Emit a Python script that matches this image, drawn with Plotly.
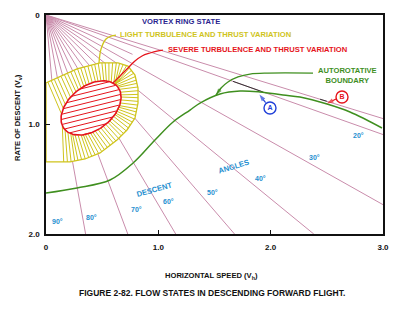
import numpy as np
import plotly.graph_objects as go

# ---------------------------------------------------------------- layout frame
W, H = 400, 328
M_L, M_R, M_T, M_B = 46, 17, 15, 94
X_MAX, Y_MAX = 3.0, 2.0
SX = (W - M_L - M_R) / X_MAX      # pixels per unit of Vh
SY = (H - M_T - M_B) / Y_MAX      # pixels per unit of Vv

# ---------------------------------------------------------------- data
x_ticks = [0, 1.0, 2.0, 3.0]
x_tick_text = ["0", "1.0", "2.0", "3.0"]
y_ticks = [0, 1.0, 2.0]
y_tick_text = ["0", "1.0", "2.0"]

# descent-angle rays drawn from the origin (degrees below horizontal)
long_ray_angles = [80, 70, 60, 50, 40, 30, 20, 17.5]
short_ray_angles = [85, 75, 65, 55, 45, 35, 25]
short_ray_length = 0.85

angle_label_text = ["90°", "80°", "70°", "60°", "50°", "40°", "30°", "20°"]
angle_label_x = [0.10, 0.405, 0.81, 1.09, 1.48, 1.905, 2.39, 2.78]
angle_label_y = [1.89, 1.85, 1.78, 1.70, 1.62, 1.49, 1.30, 1.10]

# autorotative boundary
auto_x = [0.000, 0.276, 0.570, 0.775, 0.970, 1.131, 1.282, 1.371, 1.549,
          1.727, 1.905, 2.110, 2.261, 2.502, 2.706, 2.991]
auto_y = [1.626, 1.580, 1.507, 1.352, 1.142, 0.977, 0.868, 0.804, 0.721,
          0.694, 0.703, 0.731, 0.749, 0.813, 0.886, 1.032]

# light turbulence region (outer edge, starting and ending on the Vv axis)
light_x = [0.000, 0.125, 0.276, 0.481, 0.641, 0.730, 0.792, 0.819, 0.819,
           0.792, 0.721, 0.632, 0.481, 0.347, 0.214, 0.000]
light_y = [0.621, 0.566, 0.493, 0.438, 0.438, 0.466, 0.548, 0.667, 0.804,
           0.941, 1.050, 1.142, 1.260, 1.315, 1.342, 1.342]

# severe turbulence region (tilted ellipse)
severe_cx, severe_cy = 0.401, 0.849
severe_a_px, severe_b_px, severe_tilt = 34.0, 22.0, 38.0

# leader lines
light_lead_x = [0.472, 0.474, 0.490, 0.534, 0.579, 0.623]
light_lead_y = [0.438, 0.411, 0.310, 0.219, 0.192, 0.183]
severe_lead_x = [0.596, 0.659, 0.730, 0.792, 0.855, 0.926, 0.988, 1.041]
severe_lead_y = [0.621, 0.557, 0.484, 0.420, 0.374, 0.347, 0.329, 0.320]
auto_lead_x = [2.377, 1.976, 1.816, 1.709, 1.620, 1.558, 1.513]
auto_lead_y = [0.530, 0.530, 0.539, 0.566, 0.612, 0.667, 0.731]

# points A and B on the boundary
point_a = dict(label="A", cx=1.994, cy=0.849, tip=(1.900, 0.727), tail=(1.955, 0.800))
point_b = dict(label="B", cx=2.635, cy=0.749, tip=(2.500, 0.808), tail=(2.582, 0.767))

# ---------------------------------------------------------------- colours / fonts
C_RAY = "#c98cab"
C_YEL = "#cfc41c"
C_RED = "#e5141c"
C_GRN = "#3f8f1f"
C_NAVY = "#2b1f8f"
C_ANG = "#1f8fd0"
C_A = "#1f3fd8"
FONT = "Liberation Sans, Arial, sans-serif"
TXT = 7.6


def to_px(x, y):
    return np.asarray(x, float) * SX, np.asarray(y, float) * SY


def to_data(u, v):
    return np.asarray(u, float) / SX, np.asarray(v, float) / SY


fig = go.Figure()


def add_line(x, y, color, width=1.0, shape="linear", **kw):
    fig.add_trace(go.Scatter(x=x, y=y, mode="lines",
                             line=dict(color=color, width=width, shape=shape),
                             hoverinfo="skip", showlegend=False, **kw))


def add_arrow(x, y, color, width=1.2, head=7):
    """Polyline ending in an arrowhead that follows the last segment."""
    n = len(x)
    fig.add_trace(go.Scatter(x=x, y=y, mode="lines+markers",
                             line=dict(color=color, width=width),
                             marker=dict(symbol="arrow", angleref="previous",
                                         size=[0] * (n - 1) + [head], color=color,
                                         line=dict(width=0)),
                             hoverinfo="skip", showlegend=False))


def segments(list_of_pairs):
    xs, ys = [], []
    for (x0, y0), (x1, y1) in list_of_pairs:
        xs += [x0, x1, None]
        ys += [y0, y1, None]
    return xs, ys


# ---------------------------------------------------------------- rays
ray_segs = []
for ang in long_ray_angles:
    t = np.tan(np.radians(ang))
    xe = min(X_MAX, Y_MAX / t)
    ray_segs.append(((0, 0), (xe, t * xe)))
for ang in short_ray_angles:
    r = np.radians(ang)
    ray_segs.append(((0, 0), (short_ray_length * np.cos(r), short_ray_length * np.sin(r))))
rx, ry = segments(ray_segs)
add_line(rx, ry, C_RAY, 1.0)

# darker stretches of the tangent rays near A and B
dark = []
for ang, xa, xb in [(20, 1.665, 1.93), (17.5, 2.44, 2.50)]:
    t = np.tan(np.radians(ang))
    dark.append(((xa, xa * t), (xb, xb * t)))
dx_, dy_ = segments(dark)
add_line(dx_, dy_, "#333333", 1.0)

# ---------------------------------------------------------------- ellipse geometry (pixel space)
cu, cv = to_px(severe_cx, severe_cy)
tr = np.radians(severe_tilt)
e1 = np.array([np.cos(tr), -np.sin(tr)])
e2 = np.array([np.sin(tr), np.cos(tr)])


def ellipse_hits(p0, d):
    """Parameters t where p0 + t d (relative to the ellipse centre) meets the ellipse."""
    al, be = d @ e1 / severe_a_px, d @ e2 / severe_b_px
    ga, de = p0 @ e1 / severe_a_px, p0 @ e2 / severe_b_px
    A = al * al + be * be
    B = 2 * (al * ga + be * de)
    Cc = ga * ga + de * de - 1
    disc = B * B - 4 * A * Cc
    if disc < 0:
        return []
    s = np.sqrt(disc)
    return sorted([(-B - s) / (2 * A), (-B + s) / (2 * A)])


# ---------------------------------------------------------------- light turbulence region
lu, lv = to_px(light_x, light_y)
fig.add_trace(go.Scatter(x=list(light_x) + [light_x[0]], y=list(light_y) + [light_y[0]],
                         mode="lines", fill="toself", fillcolor="white",
                         line=dict(color=C_YEL, width=1.3), hoverinfo="skip",
                         showlegend=False))

# hatch strokes normal to the outer edge
poly = np.column_stack([lu, lv])
seg_len = np.hypot(np.diff(lu), np.diff(lv))
cum = np.concatenate([[0], np.cumsum(seg_len)])
n_dense = 600
sd = np.linspace(0, cum[-1], n_dense)
du = np.interp(sd, cum, lu)
dv = np.interp(sd, cum, lv)
# smooth the tangent direction
k = 25
pad_u = np.concatenate([np.full(k, du[0]), du, np.full(k, du[-1])])
pad_v = np.concatenate([np.full(k, dv[0]), dv, np.full(k, dv[-1])])
ker = np.ones(2 * k + 1) / (2 * k + 1)
su = np.convolve(pad_u, ker, mode="same")[k:-k]
sv = np.convolve(pad_v, ker, mode="same")[k:-k]
tu = np.gradient(su)
tv = np.gradient(sv)

closed = np.vstack([poly, poly[:1]])
hatch = []
spacing = 3.6
for s in np.arange(spacing / 2, cum[-1], spacing):
    i = int(np.clip(np.searchsorted(sd, s), 0, n_dense - 1))
    P = np.array([du[i], dv[i]])
    n = np.array([-tv[i], tu[i]])
    n /= np.linalg.norm(n) + 1e-12
    if n @ (np.array([cu, cv]) - P) < 0:
        n = -n
    best_t, best_kind = np.inf, None
    for t in ellipse_hits(P - np.array([cu, cv]), n):
        if t > 0.5 and t < best_t:
            best_t, best_kind = t, "ell"
            break
    for j in range(len(closed) - 1):
        a0, a1 = closed[j], closed[j + 1]
        e = a1 - a0
        M = np.array([[n[0], -e[0]], [n[1], -e[1]]])
        if abs(np.linalg.det(M)) < 1e-9:
            continue
        t, w = np.linalg.solve(M, a0 - P)
        if 1.5 < t < best_t and 0 <= w <= 1:
            best_t, best_kind = t, "edge"
    if best_kind is None:
        continue
    if best_kind == "edge" and P[1] > cv:
        continue
    Q = P + best_t * n
    hatch.append((to_data(*P), to_data(*Q)))
hx, hy = segments([((a[0], a[1]), (b[0], b[1])) for a, b in hatch])
add_line(hx, hy, C_YEL, 1.0)

# ---------------------------------------------------------------- severe turbulence ellipse
th = np.linspace(0, 2 * np.pi, 120)
eu = cu + severe_a_px * np.cos(th) * e1[0] + severe_b_px * np.sin(th) * e2[0]
ev = cv + severe_a_px * np.cos(th) * e1[1] + severe_b_px * np.sin(th) * e2[1]
ex, ey = to_data(eu, ev)
fig.add_trace(go.Scatter(x=ex, y=ey, mode="lines", fill="toself", fillcolor="white",
                         line=dict(color=C_RED, width=1.6), hoverinfo="skip",
                         showlegend=False))

hang = np.radians(14)
hdir = np.array([np.cos(hang), -np.sin(hang)])
hnor = np.array([np.sin(hang), np.cos(hang)])
red_h = []
for off in np.arange(-26, 27, 5.0):
    p0 = off * hnor
    ts = ellipse_hits(p0, hdir)
    if len(ts) == 2 and ts[1] - ts[0] > 2:
        a = np.array([cu, cv]) + p0 + (ts[0] + 0.8) * hdir
        b = np.array([cu, cv]) + p0 + (ts[1] - 0.8) * hdir
        red_h.append((to_data(*a), to_data(*b)))
rhx, rhy = segments([((a[0], a[1]), (b[0], b[1])) for a, b in red_h])
add_line(rhx, rhy, C_RED, 1.0)

# ---------------------------------------------------------------- leaders
add_line(light_lead_x, light_lead_y, C_YEL, 1.3, shape="spline")
add_line(severe_lead_x, severe_lead_y, C_RED, 1.3, shape="spline")
add_line(auto_lead_x, auto_lead_y, C_GRN, 1.3, shape="spline")
add_arrow(auto_lead_x[-2:], auto_lead_y[-2:], C_GRN, 1.3, head=7)

# ---------------------------------------------------------------- autorotative boundary
add_line(auto_x, auto_y, C_GRN, 1.5, shape="spline")

# ---------------------------------------------------------------- points A and B
for pt, col in [(point_a, C_A), (point_b, C_RED)]:
    fig.add_trace(go.Scatter(x=[pt["cx"]], y=[pt["cy"]], mode="markers+text",
                             marker=dict(symbol="circle-open", size=12, color=col,
                                         line=dict(color=col, width=1.4)),
                             text=[pt["label"]], textposition="middle center",
                             textfont=dict(family=FONT, size=7, color=col, weight="bold"),
                             hoverinfo="skip", showlegend=False))
    add_arrow([pt["tail"][0], pt["tip"][0]], [pt["tail"][1], pt["tip"][1]], col, 1.2, head=7)

# ---------------------------------------------------------------- region labels
def label(x, y, text, color, size=TXT, xanchor="left", angle=0):
    fig.add_annotation(x=x, y=y, xref="x", yref="y", text=text, showarrow=False,
                       xanchor=xanchor, yanchor="middle", textangle=angle,
                       font=dict(family=FONT, size=size, color=color, weight="bold"))


label(0.837, 0.055, "VORTEX RING STATE", C_NAVY)
label(0.641, 0.174, "LIGHT TURBULENCE AND THRUST VARIATION", C_YEL)
label(1.068, 0.311, "SEVERE TURBULENCE AND THRUST VARIATION", C_RED)
label(2.68, 0.553, "AUTOROTATIVE<br>BOUNDARY", C_GRN, xanchor="center")
label(0.970, 1.589, "DESCENT", C_ANG, size=7.6, xanchor="center", angle=-16)
label(1.674, 1.388, "ANGLES", C_ANG, size=7.6, xanchor="center", angle=-17)
for t_, x_, y_ in zip(angle_label_text, angle_label_x, angle_label_y):
    label(x_, y_, t_, C_ANG, size=7, xanchor="center")

# ---------------------------------------------------------------- titles
def px_to_paper(u, v):
    return (u - M_L) / (W - M_L - M_R), (H - M_B - v) / (H - M_T - M_B)


for text, (u, v), ang, size in [
    ("HORIZONTAL SPEED (V<sub>h</sub>)", (211, 276), 0, 7.6),
    ("FIGURE 2-82. FLOW STATES IN DESCENDING FORWARD FLIGHT.", (212, 293), 0, 8.5),
    ("RATE OF DESCENT (V<sub>v</sub>)", (18, 118), -90, 7.6),
]:
    px_, py_ = px_to_paper(u, v)
    fig.add_annotation(x=px_, y=py_, xref="paper", yref="paper", text=text,
                       showarrow=False, textangle=ang, xanchor="center", yanchor="middle",
                       font=dict(family=FONT, size=size, color="#111111", weight="bold"))

# ---------------------------------------------------------------- axes
axis_common = dict(showgrid=False, zeroline=False, showline=True, linecolor="#111111",
                   linewidth=1.5, mirror=True, ticks="inside", ticklen=4,
                   tickcolor="#111111", tickwidth=1.2,
                   tickfont=dict(family=FONT, size=8, color="#111111", weight="bold"))
fig.update_xaxes(range=[0, X_MAX], tickvals=x_ticks, ticktext=x_tick_text,
                 ticklabelstandoff=5, **axis_common)
fig.update_yaxes(range=[Y_MAX, 0], tickvals=y_ticks, ticktext=y_tick_text,
                 ticklabelstandoff=3, **axis_common)

fig.update_layout(width=W, height=H, margin=dict(l=M_L, r=M_R, t=M_T, b=M_B),
                  paper_bgcolor="white", plot_bgcolor="white", showlegend=False)

fig.write_html("out.html")
